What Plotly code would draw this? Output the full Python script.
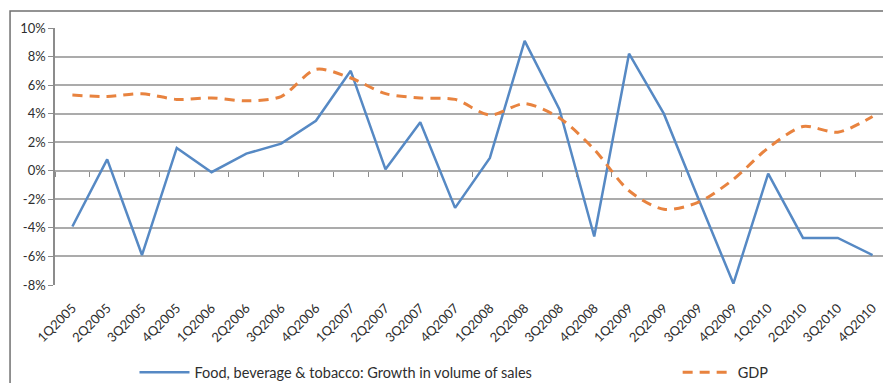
import plotly.graph_objects as go

quarters = ["1Q2005","2Q2005","3Q2005","4Q2005","1Q2006","2Q2006","3Q2006","4Q2006",
            "1Q2007","2Q2007","3Q2007","4Q2007","1Q2008","2Q2008","3Q2008","4Q2008",
            "1Q2009","2Q2009","3Q2009","4Q2009","1Q2010","2Q2010","3Q2010","4Q2010"]
food = [-3.9, 0.8, -5.9, 1.6, -0.1, 1.2, 1.9, 3.5, 7.0, 0.1, 3.4, -2.6,
        0.9, 9.1, 4.3, -4.6, 8.2, 4.0, -2.0, -7.9, -0.2, -4.7, -4.7, -5.9]
gdp = [5.3, 5.2, 5.4, 5.0, 5.1, 4.9, 5.2, 7.1, 6.5, 5.4, 5.1, 5.0,
       3.9, 4.7, 3.7, 1.5, -1.4, -2.7, -2.2, -0.6, 1.6, 3.1, 2.7, 3.8]
ytickvals = [-8, -6, -4, -2, 0, 2, 4, 6, 8, 10]
yticktext = ["-8%", "-6%", "-4%", "-2%", "0%", "2%", "4%", "6%", "8%", "10%"]

FONT = "Lato"
TXT = "#2e2e2e"
GRID = "#ababab"

fig = go.Figure()
fig.add_trace(go.Scatter(
    x=quarters, y=food, mode="lines",
    name="Food, beverage & tobacco: Growth in volume of sales",
    line=dict(color="#5689C4", width=2.5), legend="legend",
))
fig.add_trace(go.Scatter(
    x=quarters, y=gdp, mode="lines", name="GDP",
    line=dict(color="#E8833F", width=3, dash="10px,7px", shape="spline", smoothing=0.8),
    legend="legend2",
))
# invisible trace to carry the tick-mark axis at 0%
fig.add_trace(go.Scatter(
    x=quarters, y=food, mode="lines", xaxis="x2", showlegend=False,
    hoverinfo="skip", line=dict(color="rgba(0,0,0,0)", width=0),
))

legend_common = dict(orientation="h", yanchor="middle", xanchor="left", y=-0.34,
                     font=dict(family=FONT, size=14.5, color=TXT),
                     bgcolor="rgba(0,0,0,0)", itemwidth=50)

fig.update_layout(
    width=883, height=383,
    margin=dict(l=55, r=0, t=28, b=98, autoexpand=False),
    paper_bgcolor="white", plot_bgcolor="white",
    font=dict(family=FONT, size=12, color=TXT),
    showlegend=True,
    legend=dict(legend_common, x=0.096),
    legend2=dict(legend_common, x=0.752),
    xaxis=dict(type="category", range=[-0.5, 23.3], showgrid=False, zeroline=False,
               showline=False, ticks="", tickangle=-45, automargin=False,
               ticklabelstandoff=12,
               tickfont=dict(family=FONT, size=13, color=TXT)),
    xaxis2=dict(type="category", matches="x", overlaying="x", anchor="free",
                position=8/18, showgrid=False, zeroline=False, showline=False,
                ticks="outside", tickson="boundaries", ticklen=5, tickwidth=1.2,
                tickcolor="#8c8c8c", showticklabels=False, automargin=False),
    yaxis=dict(range=[-8, 10], tickvals=ytickvals, ticktext=yticktext,
               showgrid=True, gridcolor=GRID, gridwidth=2, zeroline=False,
               showline=True, linecolor="#8c8c8c", linewidth=1.5, automargin=False,
               ticks="outside", ticklen=5, tickcolor="#8c8c8c",
               tickfont=dict(family=FONT, size=13, color=TXT)),
    shapes=[dict(type="rect", xref="paper", yref="paper",
                 x0=-0.0543, x1=1.2, y0=-0.6, y1=1.066,
                 line=dict(color="#707070", width=1.5), fillcolor="rgba(0,0,0,0)",
                 layer="below")],
)

fig.write_html("out.html")
